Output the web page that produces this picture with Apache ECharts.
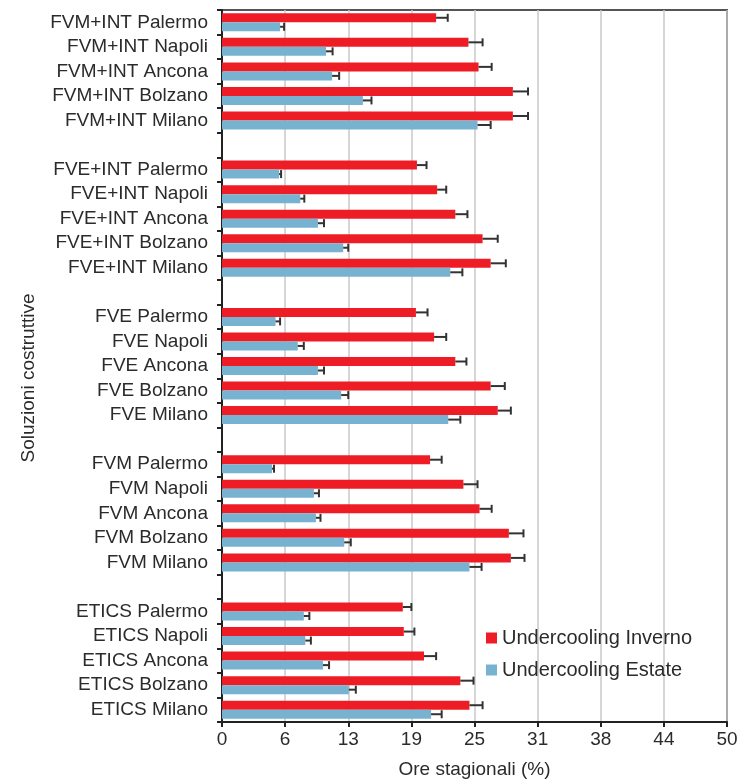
<!DOCTYPE html>
<html>
<head>
<meta charset="utf-8">
<script src="https://cdn.jsdelivr.net/npm/echarts@6/dist/echarts.min.js"></script>
<style>
  html, body { margin:0; padding:0; background:#fff; }
  #chart { width:749px; height:784px; }
</style>
</head>
<body>
<div id="chart"></div>
<script>
// categorie (stringhe vuote = spazio tra i gruppi)
const categories = [
    'FVM+INT Palermo','FVM+INT Napoli','FVM+INT Ancona','FVM+INT Bolzano','FVM+INT Milano', '',
    'FVE+INT Palermo','FVE+INT Napoli','FVE+INT Ancona','FVE+INT Bolzano','FVE+INT Milano', ' ',
    'FVE Palermo','FVE Napoli','FVE Ancona','FVE Bolzano','FVE Milano', '  ',
    'FVM Palermo','FVM Napoli','FVM Ancona','FVM Bolzano','FVM Milano', '   ',
    'ETICS Palermo','ETICS Napoli','ETICS Ancona','ETICS Bolzano','ETICS Milano'
];
const invernoVal = [
    21.2, 24.4, 25.4, 28.8, 28.8, null,
    19.3, 21.3, 23.1, 25.8, 26.6, null,
    19.2, 21.0, 23.1, 26.6, 27.3, null,
    20.6, 23.9, 25.5, 28.4, 28.6, null,
    17.9, 18.0, 20.0, 23.6, 24.5
];
const invernoErr = [
    1.15, 1.4, 1.3, 1.5, 1.5, null,
    0.95, 0.9, 1.2, 1.5, 1.5, null,
    1.15, 1.2, 1.1, 1.4, 1.3, null,
    1.15, 1.4, 1.2, 1.45, 1.35, null,
    0.85, 1.05, 1.2, 1.3, 1.3
];
const estateVal = [
    5.75, 10.3, 10.9, 13.95, 25.3, null,
    5.65, 7.75, 9.5, 12.0, 22.6, null,
    5.3, 7.5, 9.5, 11.8, 22.4, null,
    4.95, 9.1, 9.3, 12.1, 24.5, null,
    8.1, 8.25, 10.0, 12.55, 20.7
];
const estateErr = [
    0.4, 0.65, 0.7, 0.85, 1.3, null,
    0.2, 0.4, 0.6, 0.5, 1.2, null,
    0.45, 0.6, 0.6, 0.7, 1.2, null,
    0.2, 0.5, 0.45, 0.65, 1.2, null,
    0.55, 0.55, 0.6, 0.7, 1.05
];
const seriesNames = ['Undercooling Inverno', 'Undercooling Estate'];
const colors = ['#ee1d25', '#77b3d0'];

const font = 'Liberation Sans';
const textColor = '#2b2b2b';

function toBar(vals) {
    return vals.map(v => v == null ? '-' : v);
}
function toErr(vals, errs) {
    const out = [];
    vals.forEach((v, i) => {
        if (v != null) out.push([v, i, errs[i]]);
    });
    return out;
}
function errRender(offset) {
    return function (params, api) {
        const v = api.value(0), idx = api.value(1), e = api.value(2);
        const p0 = api.coord([v, idx]);
        const p1 = api.coord([v + e, idx]);
        const y = p0[1] + offset;
        return {
            type:'group',
            children:[
                { type:'line', shape:{ x1:p0[0], y1:y, x2:p1[0], y2:y }, style:{ stroke:'#333', lineWidth:2 } },
                { type:'line', shape:{ x1:p1[0], y1:y-4, x2:p1[0], y2:y+4 }, style:{ stroke:'#333', lineWidth:2 } }
            ]
        };
    };
}

const myChart = echarts.init(document.getElementById('chart'), null, { renderer:'canvas' });
const option = {
    animation:false,
    color:colors,
    textStyle:{ fontFamily:font, color:textColor },
    grid:{
        left:222, right:22, top:10, bottom:61,
        show:true, borderColor:'#555', borderWidth:2, backgroundColor:'transparent'
    },
    legend:{
        data:seriesNames,
        orient:'vertical',
        left:481,
        top:623,
        icon:'rect',
        itemWidth:11,
        itemHeight:11,
        itemGap:12,
        textStyle:{ fontFamily:font, fontSize:20, color:textColor }
    },
    xAxis:{
        type:'value',
        min:0,
        max:50,
        interval:6.25,
        name:'Ore stagionali (%)',
        nameLocation:'middle',
        nameGap:38,
        nameTextStyle:{ fontFamily:font, fontSize:19, color:textColor },
        axisLine:{ show:true, lineStyle:{ color:'#222', width:2 } },
        axisTick:{ show:true, length:5, lineStyle:{ color:'#222', width:2 } },
        axisLabel:{
            margin:8,
            fontFamily:font, fontSize:19, color:textColor,
            formatter:v => String(Math.round(v))
        },
        splitLine:{ show:true, lineStyle:{ color:'#c8c8c8', width:1.5 } }
    },
    yAxis:{
        type:'category',
        inverse:true,
        data:categories,
        name:'Soluzioni costruttive',
        nameLocation:'middle',
        nameGap:184,
        nameRotate:90,
        nameTextStyle:{ fontFamily:font, fontSize:19, color:textColor, padding:[0, 24, 0, 0] },
        axisLine:{ show:true, lineStyle:{ color:'#222', width:2 } },
        axisTick:{ show:true, interval:0, length:5, lineStyle:{ color:'#222', width:2 } },
        axisLabel:{ interval:0, margin:14, fontFamily:font, fontSize:19, color:textColor },
        splitLine:{ show:false }
    },
    series:[
        {
            type:'bar',
            name:seriesNames[0],
            data:toBar(invernoVal),
            barWidth:9,
            barGap:'0%',
            itemStyle:{ color:colors[0] }
        },
        {
            type:'bar',
            name:seriesNames[1],
            data:toBar(estateVal),
            barWidth:9,
            barGap:'0%',
            itemStyle:{ color:colors[1] }
        },
        {
            type:'custom',
            name:'err inverno',
            renderItem:errRender(-4.5),
            encode:{ x:0, y:1 },
            data:toErr(invernoVal, invernoErr),
            z:5
        },
        {
            type:'custom',
            name:'err estate',
            renderItem:errRender(4.5),
            encode:{ x:0, y:1 },
            data:toErr(estateVal, estateErr),
            z:5
        }
    ]
};
myChart.setOption(option);
</script>
</body>
</html>
